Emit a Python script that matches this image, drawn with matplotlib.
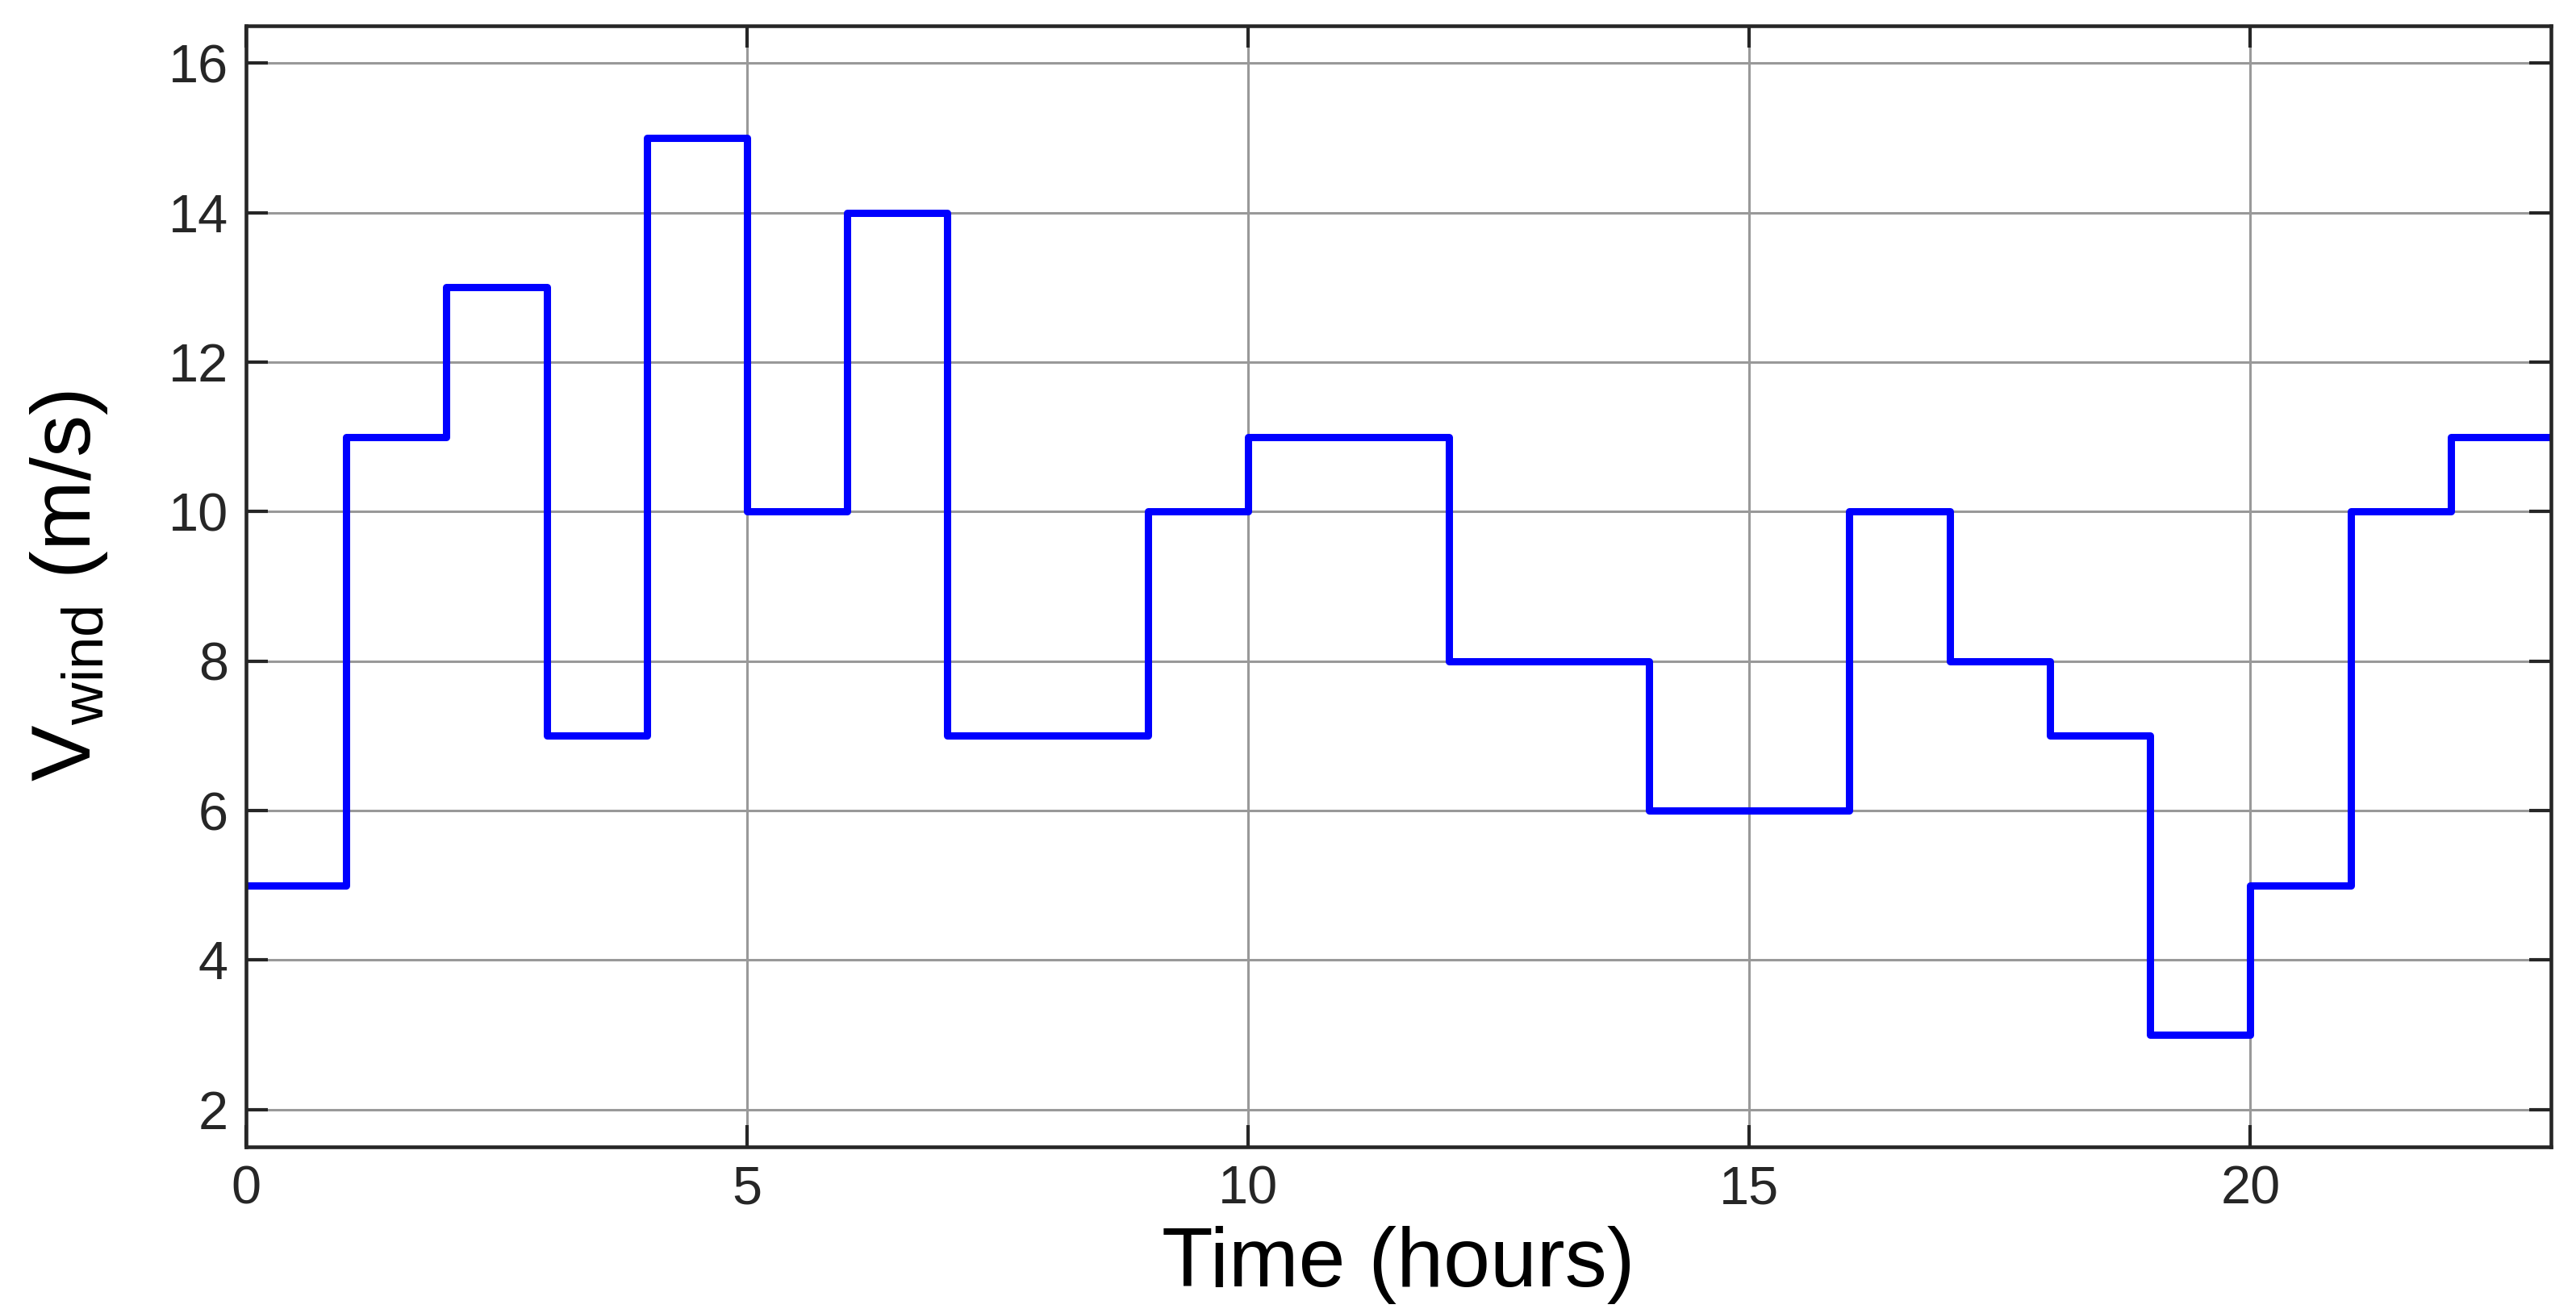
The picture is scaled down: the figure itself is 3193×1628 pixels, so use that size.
import numpy as np
import matplotlib
matplotlib.use('Agg')
import matplotlib.pyplot as plt

plt.rcParams['font.family'] = ['Liberation Sans', 'DejaVu Sans']
plt.rcParams['mathtext.fontset'] = 'custom'
plt.rcParams['mathtext.rm'] = 'Liberation Sans'
plt.rcParams['mathtext.it'] = 'Liberation Sans'

# 每小时风速 (m/s)
hours = np.arange(0, 24)
wind_speed = [5, 11, 13, 7, 15, 10, 14, 7, 7, 10, 11, 11,
              8, 8, 6, 6, 10, 8, 7, 3, 5, 10, 11]
x_ticks = [0, 5, 10, 15, 20]
y_ticks = [2, 4, 6, 8, 10, 12, 14, 16]

fig = plt.figure(figsize=(31.93, 16.28), dpi=100)
ax = fig.add_axes([0.0955, 0.1265, 0.8948, 0.8538])

# 最后一个值重复一次, 画到 23 小时
y = list(wind_speed) + [wind_speed[-1]]
ax.plot(hours, y, drawstyle='steps-post', color='#0000ff', linewidth=6.5)

ax.set_xlim(0, 23)
ax.set_ylim(1.5, 16.5)
ax.set_xticks(x_ticks)
ax.set_yticks(y_ticks)

ax.grid(True, color='#999999', linewidth=2.2)
ax.set_axisbelow(True)
for s in ax.spines.values():
    s.set_color('#262626')
    s.set_linewidth(3.3)
ax.tick_params(direction='in', length=19.5, width=3, colors='#262626',
               labelsize=48, top=True, right=True, pad=16)

ax.set_xlabel('Time (hours)', fontsize=75, labelpad=10)
ax.set_ylabel(r'V$_{\mathrm{wind}}$ (m/s)', fontsize=75, labelpad=52)

fig.savefig('out.png', dpi=100, facecolor='white')
